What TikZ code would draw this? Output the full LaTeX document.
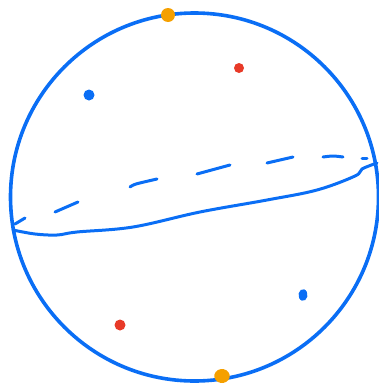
\documentclass[tikz,border=0pt]{standalone}
\usetikzlibrary{positioning}
\definecolor{penblue}{RGB}{10,110,245}
\definecolor{penorange}{RGB}{245,160,0}
\definecolor{penred}{RGB}{232,58,40}
\tikzset{
  pen/.style={penblue, line width=3.6pt, line cap=round, line join=round},
  dot/.style={circle, fill=#1, inner sep=0pt, minimum size=8pt},
}
\begin{document}
\begin{tikzpicture}[x=1pt, y=-1pt]
    \useasboundingbox (0,0) rectangle (379,386);
    % sphere outline
    \draw[pen] (194.5,197) circle (184);
    % front of the equator
    \draw[pen, line width=3pt] plot[smooth, tension=0.6] coordinates
        {(13,230) (35,234) (57,235) (77,232) (133,227) (200,212) (267,200) (317,190) (355,176) (362,169) (377,163)};
    % back of the equator
    \draw[pen, line width=3pt] (15,224) -- (25,218);
    \draw[pen, line width=3pt] (55,212) -- (78,202);
    \draw[pen, line width=3pt] plot[smooth] coordinates {(130,187) (136,184) (157,179)};
    \draw[pen, line width=3pt] (197,174) -- (230,165);
    \draw[pen, line width=3pt] (267,163) -- (293,157);
    \draw[pen, line width=3pt] plot[smooth] coordinates {(323,157) (333,156) (343,157)};
    \draw[pen, line width=3pt] (362,158) -- (367,158);
    % poles and points
    \node[dot=penorange, minimum size=14pt] (northpole) at (168,15) {};
    \node[dot=penorange, minimum size=14pt, xscale=1.1, rotate=-35] (southpole) at (222,376) {};
    \node[dot=penred, minimum size=10pt] (redtop) at (239,68) {};
    \node[dot=penred, minimum size=11pt] (redbottom) at (120,325) {};
    \node[dot=penblue, minimum size=11pt] (bluetop) at (89,95) {};
    \node[dot=penblue, minimum size=9pt, yscale=1.3, rotate=30] (bluebottom) at (303,295) {};
\end{tikzpicture}
\end{document}
